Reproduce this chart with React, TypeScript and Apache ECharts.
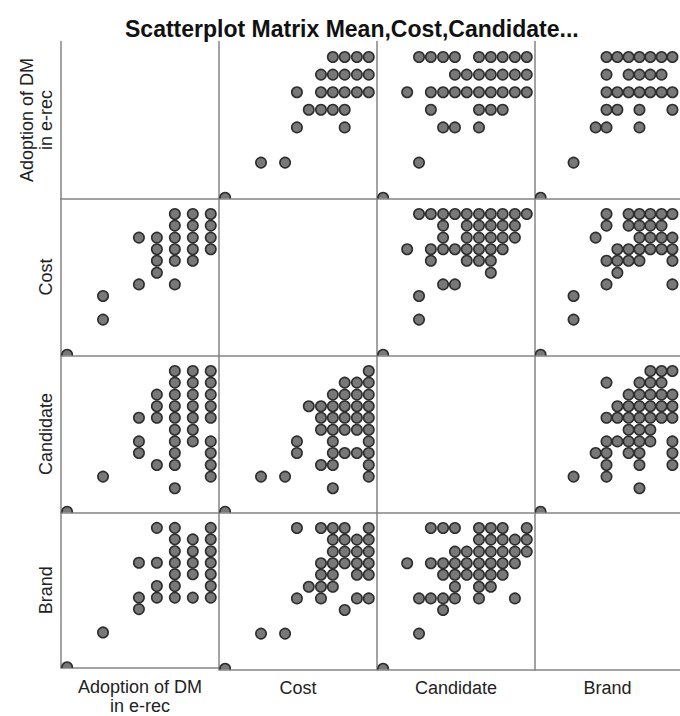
import React, { useEffect, useRef } from "react";
import * as echarts from "echarts";

const titleText = "Scatterplot Matrix Mean,Cost,Candidate...";
const variableNames = ["Adoption of DM\nin e-rec", "Cost", "Candidate", "Brand"];

// [Adoption, Cost]
const adoptionCost: number[][] = [
  [1, 1],
  [2, 2.67], [2, 2.0],
  [3, 4.33], [3, 3.0],
  [3.5, 4.33], [3.5, 4.0], [3.5, 3.67], [3.5, 3.33],
  [4, 5.0], [4, 4.67], [4, 4.33], [4, 4.0], [4, 3.67], [4, 3.0],
  [4.5, 5.0], [4.5, 4.67], [4.5, 4.33], [4.5, 4.0], [4.5, 3.67],
  [5, 5.0], [5, 4.67], [5, 4.33], [5, 4.0],
];

// [Adoption, Candidate]
const adoptionCandidate: number[][] = [
  [1, 1],
  [2, 2.0],
  [3, 3.67], [3, 3.0], [3, 2.67],
  [3.5, 4.33], [3.5, 4.0], [3.5, 3.67], [3.5, 2.33],
  [4, 5.0], [4, 4.67], [4, 4.33], [4, 4.0], [4, 3.67], [4, 3.33], [4, 3.0], [4, 2.67], [4, 2.33], [4, 1.67],
  [4.5, 5.0], [4.5, 4.67], [4.5, 4.33], [4.5, 4.0], [4.5, 3.67], [4.5, 3.33], [4.5, 3.0],
  [5, 5.0], [5, 4.67], [5, 4.33], [5, 4.0], [5, 3.67], [5, 3.0], [5, 2.67], [5, 2.33], [5, 2.0],
];

// [Adoption, Brand]
const adoptionBrand: number[][] = [
  [1, 1],
  [2, 2.0],
  [3, 4.0], [3, 3.0], [3, 2.67],
  [3.5, 5.0], [3.5, 4.0], [3.5, 3.33], [3.5, 3.0],
  [4, 5.0], [4, 4.67], [4, 4.33], [4, 4.0], [4, 3.67], [4, 3.33], [4, 3.0],
  [4.5, 4.67], [4.5, 4.33], [4.5, 4.0], [4.5, 3.67], [4.5, 3.0],
  [5, 5.0], [5, 4.67], [5, 4.33], [5, 4.0], [5, 3.67], [5, 3.33], [5, 3.0],
];

// [Cost, Candidate]
const costCandidate: number[][] = [
  [5.0, 5.0],
  [4.33, 4.67], [4.67, 4.67], [5.0, 4.67],
  [4.0, 4.33], [4.33, 4.33], [4.67, 4.33], [5.0, 4.33],
  [3.33, 4.0], [3.67, 4.0], [4.0, 4.0], [4.33, 4.0], [4.67, 4.0], [5.0, 4.0],
  [3.67, 3.67], [4.0, 3.67], [4.33, 3.67], [4.67, 3.67], [5.0, 3.67],
  [3.67, 3.33], [4.0, 3.33], [4.33, 3.33], [4.67, 3.33], [5.0, 3.33],
  [3.0, 3.0], [4.0, 3.0], [5.0, 3.0],
  [3.0, 2.67], [4.0, 2.67], [4.33, 2.67], [4.67, 2.67], [5.0, 2.67],
  [3.67, 2.33], [4.0, 2.33], [5.0, 2.33],
  [2.0, 2.0], [2.67, 2.0], [5.0, 2.0],
  [4.0, 1.67],
  [1, 1],
];

// [Cost, Brand]
const costBrand: number[][] = [
  [3.0, 5.0], [3.67, 5.0], [4.0, 5.0], [4.33, 5.0], [5.0, 5.0],
  [4.0, 4.67], [4.33, 4.67], [4.67, 4.67], [5.0, 4.67],
  [4.0, 4.33], [4.33, 4.33], [4.67, 4.33], [5.0, 4.33],
  [3.67, 4.0], [4.0, 4.0], [4.33, 4.0], [4.67, 4.0], [5.0, 4.0],
  [3.67, 3.67], [4.0, 3.67], [4.67, 3.67], [5.0, 3.67],
  [3.33, 3.33], [3.67, 3.33], [4.0, 3.33],
  [3.0, 3.0], [3.67, 3.0], [4.67, 3.0], [5.0, 3.0],
  [4.33, 2.67],
  [2.0, 2.0], [2.67, 2.0],
  [1, 1],
];

// [Candidate, Brand]
const candidateBrand: number[][] = [
  [2.33, 5.0], [2.67, 5.0], [3.0, 5.0], [3.67, 5.0], [4.0, 5.0], [4.33, 5.0], [5.0, 5.0],
  [3.67, 4.67], [4.0, 4.67], [4.33, 4.67], [4.67, 4.67], [5.0, 4.67],
  [3.0, 4.33], [3.33, 4.33], [3.67, 4.33], [4.0, 4.33], [4.33, 4.33], [4.67, 4.33], [5.0, 4.33],
  [1.67, 4.0], [2.33, 4.0], [2.67, 4.0], [3.0, 4.0], [3.33, 4.0], [3.67, 4.0], [4.0, 4.0], [4.33, 4.0], [4.67, 4.0],
  [2.67, 3.67], [3.0, 3.67], [3.33, 3.67], [3.67, 3.67], [4.0, 3.67], [4.33, 3.67],
  [3.0, 3.33], [3.67, 3.33], [4.0, 3.33],
  [2.0, 3.0], [2.33, 3.0], [2.67, 3.0], [3.0, 3.0], [3.67, 3.0], [4.67, 3.0],
  [2.67, 2.67],
  [2.0, 2.0],
  [1, 1],
];

const pairData: Record<string, number[][]> = {
  "0-1": adoptionCost,
  "0-2": adoptionCandidate,
  "0-3": adoptionBrand,
  "1-2": costCandidate,
  "1-3": costBrand,
  "2-3": candidateBrand,
};

const FONT = "'Liberation Sans', Arial, Helvetica, sans-serif";

function cellPoints(r: number, c: number): number[][] {
  const i = Math.min(r, c);
  const j = Math.max(r, c);
  const pts = pairData[`${i}-${j}`];
  // stored as [var i, var j]; x is column variable, y is row variable
  if (c === i) return pts.map((p) => [p[0], p[1]]);
  return pts.map((p) => [p[1], p[0]]);
}

export default function App() {
  const ref = useRef<HTMLDivElement>(null);

  useEffect(() => {
    if (!ref.current) return;
    const chart = echarts.init(ref.current, undefined, { renderer: "svg" });

    const LEFT = 61;
    const TOP = 41.5;
    const CW = 158;
    const CH = 157;
    const n = variableNames.length;
    const lineStyle = { color: "#858585", width: 1.5 };

    const grids: any[] = [];
    const xAxes: any[] = [];
    const yAxes: any[] = [];
    const series: any[] = [];

    let idx = 0;
    for (let r = 0; r < n; r++) {
      for (let c = 0; c < n; c++) {
        grids.push({
          left: LEFT + c * CW,
          top: TOP + r * CH,
          width: CW,
          height: CH,
          containLabel: false,
        });
        xAxes.push({
          type: "value",
          gridIndex: idx,
          min: 0.83,
          max: 5.23,
          axisLine: { show: true, onZero: false, lineStyle },
          axisTick: { show: false },
          axisLabel: { show: false },
          splitLine: { show: false },
          name: r === n - 1 ? variableNames[c] : "",
          nameLocation: "middle",
          nameGap: 9,
          nameTextStyle: {
            fontFamily: FONT,
            fontSize: 18,
            color: "#222",
            lineHeight: 19,
          },
        });
        yAxes.push({
          type: "value",
          gridIndex: idx,
          min: 0.98,
          max: 5.44,
          axisLine: { show: true, onZero: false, lineStyle },
          axisTick: { show: false },
          axisLabel: { show: false },
          splitLine: { show: false },
          name: c === 0 ? variableNames[r] : "",
          nameLocation: "middle",
          nameGap: 6,
          nameTextStyle: {
            fontFamily: FONT,
            fontSize: 18,
            color: "#222",
            lineHeight: 19,
          },
        });
        if (r !== c) {
          series.push({
            type: "custom",
            xAxisIndex: idx,
            yAxisIndex: idx,
            clip: true,
            encode: { x: 0, y: 1 },
            data: cellPoints(r, c),
            renderItem: (params: any, api: any) => {
              const p = api.coord([api.value(0), api.value(1)]);
              return {
                type: "circle",
                shape: { cx: p[0], cy: p[1], r: 5.2 },
                style: { fill: "#787878", stroke: "#2e2e2e", lineWidth: 1.6 },
              };
            },
          });
        }
        idx++;
      }
    }

    chart.setOption({
      animation: false,
      backgroundColor: "#ffffff",
      title: {
        text: titleText,
        left: 120,
        top: 12,
        textStyle: {
          fontFamily: FONT,
          fontSize: 23,
          fontWeight: "bold",
          color: "#111",
        },
      },
      grid: grids,
      xAxis: xAxes,
      yAxis: yAxes,
      series,
    });

    return () => chart.dispose();
  }, []);

  return (
    <div
      ref={ref}
      style={{ position: "absolute", left: 0, top: 0, width: 680, height: 716 }}
    />
  );
}
